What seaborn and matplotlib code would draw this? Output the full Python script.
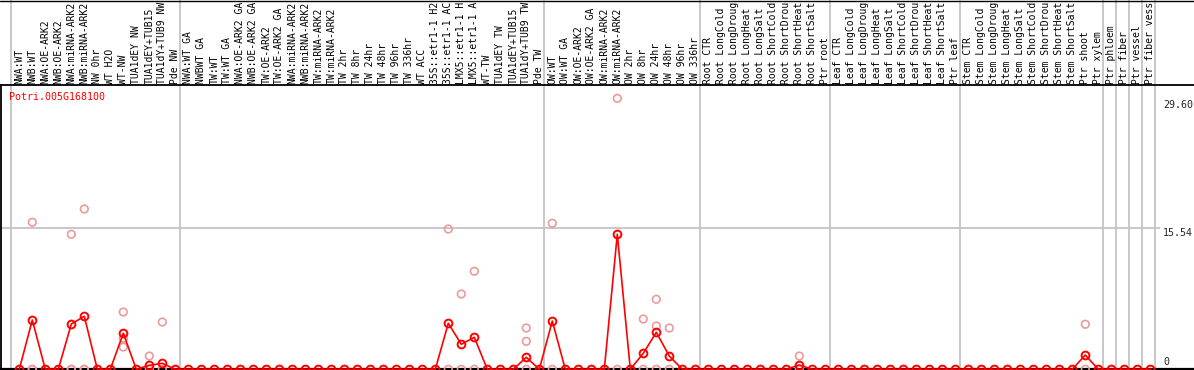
import matplotlib
matplotlib.use("Agg")
import matplotlib.pyplot as plt
import pandas as pd
import seaborn as sns

# sample names as they show in the header, one list per experiment block
group_nw = ["NWA:WT", "NWB:WT", "NWA:OE-ARK2", "NWB:OE-ARK2", "NWA:miRNA-ARK2",
            "NWB:miRNA-ARK2", "NW 0hr", "WT H2O", "WT-NW", "TUA1dEY NW",
            "TUA1dEY+TUB15", "TUA1dY+TUB9 NW", "Pde NW"]
group_tw = ["NWA:WT GA", "NWBWT GA", "TW:WT", "TW:WT GA", "NWA:OE-ARK2 GA",
            "NWB:OE-ARK2 GA", "TW:OE-ARK2", "TW:OE-ARK2 GA", "NWA:miRNA-ARK2",
            "NWB:miRNA-ARK2", "TW:miRNA-ARK2", "TW:miRNA-ARK2", "TW 2hr", "TW 8hr",
            "TW 24hr", "TW 48hr", "TW 96hr", "TW 336hr", "WT ACC", "35S::etr1-1 H2",
            "35S::etr1-1 AC", "LMX5::etr1-1 H", "LMX5::etr1-1 A", "WT-TW",
            "TUA1dEY TW", "TUA1dEY+TUB15", "TUA1dY+TUB9 TW", "Pde TW"]
group_ow = ["OW:WT", "OW:WT GA", "OW:OE-ARK2", "OW:OE-ARK2 GA", "OW:miRNA-ARK2",
            "OW:miRNA-ARK2", "OW 2hr", "OW 8hr", "OW 24hr", "OW 48hr", "OW 96hr",
            "OW 336hr"]
group_root = ["Root CTR", "Root LongCold", "Root LongDroug", "Root LongHeat",
              "Root LongSalt", "Root ShortCold", "Root ShortDrou", "Root ShortHeat",
              "Root ShortSalt", "Ptr root"]
group_leaf = ["Leaf CTR", "Leaf LongCold", "Leaf LongDroug", "Leaf LongHeat",
              "Leaf LongSalt", "Leaf ShortCold", "Leaf ShortDrou", "Leaf ShortHeat",
              "Leaf ShortSalt", "Ptr leaf"]
group_stem = ["Stem CTR", "Stem LongCold", "Stem LongDroug", "Stem LongHeat",
              "Stem LongSalt", "Stem ShortCold", "Stem ShortDrou", "Stem ShortHeat",
              "Stem ShortSalt", "Ptr shoot", "Ptr xylem"]
group_phloem = ["Ptr phloem"]
group_fiber = ["Ptr fiber"]
group_vessel = ["Ptr vessel"]
group_fv = ["Ptr fiber vess"]

groups = [group_nw, group_tw, group_ow, group_root, group_leaf, group_stem,
          group_phloem, group_fiber, group_vessel, group_fv]

# mean expression per sample (same order as the labels)
mean_values = [
    0, 5.42, 0, 0, 4.98, 5.83, 0, 0, 3.96, 0, 0.44, 0.66, 0,
    0, 0, 0, 0, 0, 0, 0, 0, 0, 0, 0, 0, 0, 0, 0, 0, 0, 0, 0,
    0, 5.06, 2.75, 3.52, 0, 0, 0, 1.32, 0,
    5.31, 0, 0, 0, 0, 14.85, 0, 1.76, 4.07, 1.46, 0, 0,
    0, 0, 0, 0, 0, 0, 0, 0.47, 0, 0,
    0, 0, 0, 0, 0, 0, 0, 0, 0, 0,
    0, 0, 0, 0, 0, 0, 0, 0, 0, 1.57, 0,
    0, 0, 0, 0,
]

# individual replicates (1-based sample number, value)
rep_samples = [2, 2, 2, 5, 5, 5, 6, 6, 6, 9, 9, 9, 11, 11, 12, 12,
               34, 34, 35, 35, 36, 36, 40, 40, 40, 42, 42, 47, 47,
               49, 49, 50, 50, 50, 51, 51, 61, 61, 83, 83]
rep_values = [16.17, 0, 0, 14.85, 0, 0, 17.63, 0, 0, 6.30, 3.41, 2.45, 1.46, 0, 5.20, 0,
              15.43, 0, 8.28, 0, 10.78, 0, 4.54, 3.08, 0, 16.06, 0, 29.80, 0,
              5.53, 0, 7.70, 4.76, 0, 4.54, 0, 1.46, 0, 4.95, 0]

ytick_values = [0, 15.54, 29.60]
ytick_labels = ["0", "15.54", "29.60"]
gene_name = "Potri.005G168100"

# pixel layout of the reference picture
W, H = 1194, 370
X0_PX, STEP_PX = 6.3, 13.0       # x pixel of sample i is X0_PX + STEP_PX * i
BASE_PX, GRID_PX = 369.3, 228.0  # y pixel of 0 and of 15.54
LABEL_LINE_PX = 85
k = (BASE_PX - GRID_PX) / ytick_values[1]


def vy(px):
    return (BASE_PX - px) / k


def vx(px):
    return (px - X0_PX) / STEP_PX


sns.set_style("white")
plt.rcParams["font.family"] = ["DejaVu Sans Mono", "DejaVu Sans"]

labels = [name for g in groups for name in g]
df_mean = pd.DataFrame({"Sample": range(1, len(labels) + 1), "Value": mean_values})
df_rep = pd.DataFrame({"Sample": rep_samples, "Value": rep_values})

fig = plt.figure(figsize=(W / 100, H / 100), dpi=100)
ax = fig.add_axes([0, 0, 1, 1])
ax.set_xlim(vx(0), vx(W))
ax.set_ylim(vy(H), vy(0))
ax.axis("off")

# group separators
bound = 0
for g in [[]] + groups:
    bound += len(g)
    ax.axvline(bound + 0.38, color="#c4c4c4", lw=1.3, zorder=1)

ax.hlines(ytick_values[1], vx(0), vx(1160), color="#c4c4c4", lw=1.3, zorder=1)
ax.axhline(0, color="black", lw=1.6, zorder=2)
ax.axhline(vy(LABEL_LINE_PX), color="black", lw=1.3, zorder=2)
ax.axhline(vy(0.5), color="black", lw=1.0, zorder=2)
ax.plot([vx(1), vx(1)], [vy(LABEL_LINE_PX), 0], color="black", lw=1.3, zorder=2)

sns.scatterplot(data=df_rep, x="Sample", y="Value", ax=ax, marker="o",
                facecolors="none", edgecolor="#ec9a9a", linewidth=1.2, s=30,
                zorder=3, legend=False)
sns.lineplot(data=df_mean, x="Sample", y="Value", ax=ax, color="#ff0000",
             linewidth=1.2, marker="o", markersize=5.6, markerfacecolor="none",
             markeredgecolor="#ff0000", markeredgewidth=1.4, zorder=4)

for i, lab in enumerate(labels, start=1):
    ax.text(i, vy(LABEL_LINE_PX - 1.5), lab, rotation=90, ha="center", va="bottom",
            fontsize=7.0, color="black")

for v, t in zip(ytick_values, ytick_labels):
    if v == 0:
        ax.text(vx(1163), v + 0.25, t, ha="left", va="bottom", fontsize=7.2)
    else:
        ax.text(vx(1163), v, t, ha="left", va="top", fontsize=7.2)

ax.text(vx(9), vy(97), gene_name, ha="left", va="center", fontsize=7.2, color="#ff0000")

fig.savefig("out.png", dpi=100)
